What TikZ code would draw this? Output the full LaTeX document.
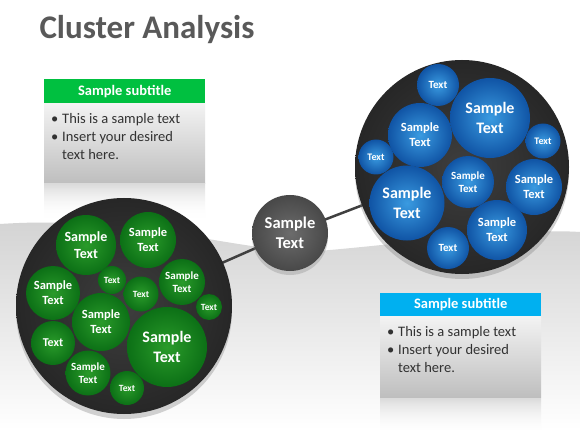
\documentclass[tikz,border=0pt]{standalone}
\usepackage{fontspec}
\setmainfont{Carlito}
\usetikzlibrary{shadows,backgrounds,positioning,fadings}

\definecolor{titleGray}{RGB}{89,89,89}
\definecolor{textGray}{RGB}{50,50,50}
\definecolor{hdrGreen}{RGB}{0,192,64}
\definecolor{hdrBlue}{RGB}{0,176,240}
\definecolor{bodyTop}{RGB}{243,243,243}
\definecolor{bodyBot}{RGB}{190,190,190}
\definecolor{bandTop}{RGB}{210,210,210}
\definecolor{linkGray}{RGB}{64,64,64}
% ball colours
\definecolor{grA}{RGB}{42,155,42}
\definecolor{grB}{RGB}{12,112,22}
\definecolor{grC}{RGB}{4,55,8}
\definecolor{grD}{RGB}{22,92,24}
\definecolor{blA}{RGB}{58,155,225}
\definecolor{blB}{RGB}{16,84,165}
\definecolor{blC}{RGB}{6,36,92}
\definecolor{blD}{RGB}{26,80,145}
\definecolor{dkA}{RGB}{62,62,62}
\definecolor{dkB}{RGB}{34,34,34}
\definecolor{dkC}{RGB}{22,22,22}
\definecolor{dkD}{RGB}{95,95,95}
\definecolor{hbA}{RGB}{108,108,108}
\definecolor{hbB}{RGB}{68,68,68}
\definecolor{hbC}{RGB}{36,36,36}
\definecolor{hbD}{RGB}{95,95,95}

\pgfdeclareradialshading{greenball}{\pgfpoint{0bp}{0bp}}{color(0bp)=(grA); color(25bp)=(grB); color(45bp)=(grC); color(49bp)=(grD); color(50bp)=(grD)}
\pgfdeclareradialshading{blueball}{\pgfpoint{0bp}{0bp}}{color(0bp)=(blA); color(25bp)=(blB); color(45bp)=(blC); color(49bp)=(blD); color(50bp)=(blD)}
\pgfdeclareradialshading{darkdisc}{\pgfpoint{0bp}{0bp}}{color(0bp)=(dkA); color(30bp)=(dkB); color(46bp)=(dkC); color(49bp)=(dkD); color(50bp)=(dkD)}
\pgfdeclareradialshading{hubball}{\pgfpoint{0bp}{0bp}}{color(0bp)=(hbA); color(28bp)=(hbB); color(46bp)=(hbC); color(49bp)=(hbD); color(50bp)=(hbD)}

\newcommand\bitem{\makebox[11pt][l]{\textbullet}}

\tikzset{
  disc/.style={circle, inner sep=0pt, minimum size=#1, shading=darkdisc,
    drop shadow={shadow xshift=0pt, shadow yshift=-5pt, opacity=.35}},
  gball/.style={circle, inner sep=0pt, minimum size=#1, shading=greenball, text=white, align=center},
  bball/.style={circle, inner sep=0pt, minimum size=#1, shading=blueball, text=white, align=center},
  hubnode/.style={circle, inner sep=0pt, minimum size=#1, shading=hubball, text=white, align=center,
    drop shadow={shadow xshift=0pt, shadow yshift=-4pt, opacity=.3}},
  bt/.style={font={\bfseries\fontsize{#1}{#1}\selectfont\baselineskip=1.2em}},
  hdr/.style={minimum width=161, minimum height=#1, inner sep=0pt, text=white,
    font=\bfseries\fontsize{14.5}{17}\selectfont},
  bodybox/.style={minimum width=161, minimum height=#1, inner sep=0pt, top color=bodyTop, bottom color=bodyBot},
  refl/.style={minimum width=161, minimum height=34, inner sep=0pt, top color=black!14, bottom color=white, path fading=south},
  bullets/.style={align=left, inner sep=0pt, text=textGray, font=\fontsize{14.5}{18}\selectfont},
  link/.style={draw=linkGray, line width=2.5pt}
}

\begin{document}
\begin{tikzpicture}[x=1pt,y=-1pt]
\useasboundingbox (0,0) rectangle (580,430);

%Background + grey band
\begin{scope}[on background layer]
\fill[white] (0,0) rectangle (580,430);
\shade[top color=bandTop, bottom color=white] (0,224) .. controls (150,214) and (250,258) .. (330,250) .. controls (420,242) and (520,228) .. (580,232) -- (580,430) -- (0,430) -- cycle;
\end{scope}

%Title
\node[anchor=base west, text=titleGray, font=\bfseries\fontsize{33}{40}\selectfont] (title) at (36,39) {Cluster Analysis};

%Green text box
\node[hdr=24, fill=hdrGreen, anchor=north west] (ghdr) at (44,79) {Sample subtitle};
\node[bodybox=80, anchor=north] (gbody) at (ghdr.south) {};
\node[refl, anchor=north] (grefl) at (gbody.south) {};
\node[bullets, anchor=north west] (gtxt) at (51,113) {\bitem This is a sample text\\\bitem Insert your desired\\\hspace*{11pt}text here.};

%Blue text box
\node[hdr=23, fill=hdrBlue, anchor=north west] (bhdr) at (380,293) {Sample subtitle};
\node[bodybox=81, anchor=north] (bbody) at (bhdr.south) {};
\node[refl, anchor=north] (brefl) at (bbody.south) {};
\node[bullets, anchor=north west] (btxt) at (387,326) {\bitem This is a sample text\\\bitem Insert your desired\\\hspace*{11pt}text here.};

%Cluster discs and hub
\node[disc=216] (lc) at (124,306) {};
\node[disc=214] (rc) at (462,167) {};
\node[hubnode=76, bt=16.5] (hub) at (290,233) {Sample\\Text};

%Links
\begin{scope}[on background layer]
\draw[link] (lc.center) -- (hub.center) -- (rc.center);
\end{scope}

%Green balls
\node[gball=60, bt=14] (g1) at (86,245) {Sample\\Text};
\node[gball=56, bt=12.5] (g2) at (148,240) {Sample\\Text};
\node[gball=28, bt=9.5] (g3) at (112,280) {Text};
\node[gball=46, bt=11] (g4) at (182,282) {Sample\\Text};
\node[gball=35, bt=9.5] (g5) at (141,294) {Text};
\node[gball=26, bt=9.5] (g6) at (209,307) {Text};
\node[gball=54, bt=12.5] (g7) at (53,293) {Sample\\Text};
\node[gball=58, bt=12.5] (g8) at (101,322) {Sample\\Text};
\node[gball=80, bt=16] (g9) at (167,347) {Sample\\Text};
\node[gball=44, bt=12] (g10) at (53,343) {Text};
\node[gball=45, bt=11] (g11) at (88,373) {Sample\\Text};
\node[gball=34, bt=9.5] (g12) at (127,388) {Text};

%Blue balls
\node[bball=42, bt=11] (b1) at (438,85) {Text};
\node[bball=80, bt=16] (b2) at (490,118) {Sample\\Text};
\node[bball=64, bt=12.5] (b3) at (420,135) {Sample\\Text};
\node[bball=35, bt=10] (b4) at (543,141) {Text};
\node[bball=35, bt=10] (b5) at (376,157) {Text};
\node[bball=52, bt=11] (b6) at (468,182) {Sample\\Text};
\node[bball=56, bt=12.5] (b7) at (534,187) {Sample\\Text};
\node[bball=75, bt=16] (b8) at (407,203) {Sample\\Text};
\node[bball=60, bt=12.5] (b9) at (497,230) {Sample\\Text};
\node[bball=42, bt=11] (b10) at (448,248) {Text};
\end{tikzpicture}
\end{document}
